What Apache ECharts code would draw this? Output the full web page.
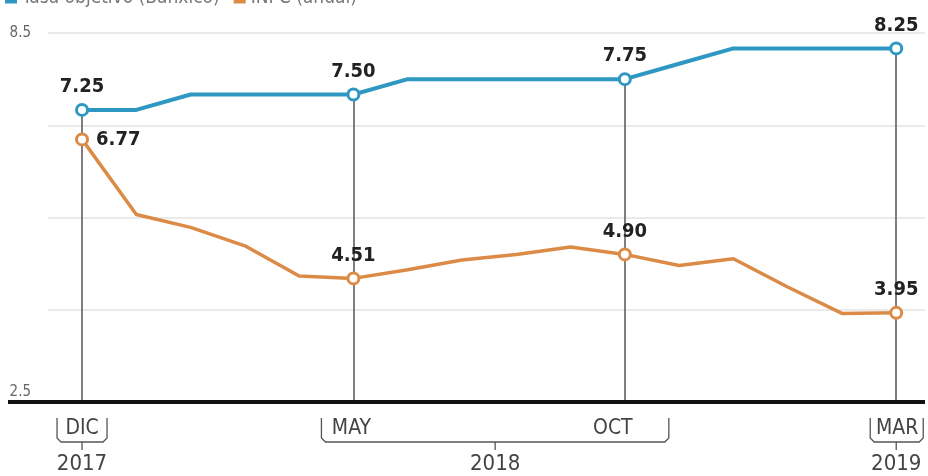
<!DOCTYPE html>
<html>
<head>
<meta charset="utf-8">
<script src="https://cdn.jsdelivr.net/npm/echarts@6/dist/echarts.min.js"></script>
<style>html,body{margin:0;padding:0;background:#fff;}#c{width:928px;height:476px;}</style>
</head>
<body>
<div id="c"></div>
<script>
const months = ['DIC 2017','ENE','FEB','MAR','ABR','MAY','JUN','JUL','AGO','SEP','OCT','NOV','DIC','ENE 2019','FEB','MAR 2019'];
const banxico = [7.25,7.25,7.50,7.50,7.50,7.50,7.75,7.75,7.75,7.75,7.75,8.00,8.25,8.25,8.25,8.25];
const inpc = [6.77,5.55,5.34,5.04,4.55,4.51,4.65,4.81,4.90,5.02,4.90,4.72,4.83,4.37,3.94,3.95];
const labeledIdx = [0,5,10,15];
const tickLabels = ['DIC','MAY','OCT','MAR'];
const yearLabels = ['2017','2018','2019'];
const yTickLabels = [2.5, 8.5];
const seriesNames = ['Tasa objetivo (Banxico)','INPC (anual)'];

(function () {
const BLUE = '#2f98c2', ORANGE = '#dc8b46';
const FONT = "'DejaVu Sans Condensed','Liberation Sans Narrow',sans-serif";
const NARROW = "'Liberation Sans Narrow','DejaVu Sans Condensed',sans-serif";

const chart = echarts.init(document.getElementById('c'));

function mkData(arr, color, labelPos) {
  return arr.map((v, i) => {
    const key = labeledIdx.includes(i);
    const item = { value: [i, v] };
    if (key) {
      const pos = (typeof labelPos === 'function') ? labelPos(i) : labelPos;
      item.symbol = 'circle';
      item.symbolSize = 11;
      item.itemStyle = { color: '#fff', borderColor: color, borderWidth: 3 };
      item.label = {
        show: true, position: pos,
        distance: pos === 'right' ? 7 : 6, formatter: v.toFixed(2), fontFamily: FONT, fontWeight: 'bold',
        fontSize: 20, color: '#222'
      };
    } else {
      item.symbol = 'none';
    }
    return item;
  });
}

chart.setOption({
  animation: false,
  legend: {
    left: 0, top: -16, icon: 'rect', itemWidth: 12, itemHeight: 10, itemGap: 14,
    textStyle: { fontFamily: FONT, fontSize: 19, color: '#777' },
    data: seriesNames
  },
  grid: { left: 48, right: 3, top: 33, bottom: 74 },
  xAxis: {
    type: 'value', min: -0.627, max: 15.53,
    axisLine: { show: false }, axisTick: { show: false }, axisLabel: { show: false },
    splitLine: { show: false }
  },
  yAxis: {
    type: 'value', min: 2.5, max: 8.5, interval: 1.5,
    axisLine: { show: false }, axisTick: { show: false },
    axisLabel: {
      margin: 17, fontFamily: NARROW, fontSize: 15, color: '#666',
      formatter: v => yTickLabels.includes(v) ? (v === 2.5 ? '{low|2.5}' : String(v)) : '',
      rich: { low: { fontFamily: NARROW, fontSize: 15, color: '#666', padding: [0, 0, 20, 0] } }
    },
    splitLine: { lineStyle: { color: '#e3e3e3', width: 1.5 } }
  },
  series: [
    {
      name: seriesNames[1], type: 'line', z: 2,
      data: mkData(inpc, ORANGE, i => i === 0 ? 'right' : 'top'),
      lineStyle: { color: ORANGE, width: 3.5 },
      itemStyle: { color: ORANGE },
      markLine: {
        silent: true, symbol: 'none', label: { show: false }, z: 1,
        lineStyle: { color: '#555', width: 1.5, type: 'solid' },
        data: labeledIdx.map(i => [{ coord: [i, banxico[i]] }, { coord: [i, 2.5] }])
      }
    },
    {
      name: seriesNames[0], type: 'line', z: 3,
      data: mkData(banxico, BLUE, 'top'),
      lineStyle: { color: BLUE, width: 4 },
      itemStyle: { color: BLUE }
    }
  ]
});

const px = i => chart.convertToPixel({ xAxisIndex: 0 }, i);
const baseY = chart.convertToPixel({ yAxisIndex: 0 }, 2.5);
const g = [];
g.push({ type: 'line', shape: { x1: 8, y1: baseY, x2: 925, y2: baseY }, style: { stroke: '#111', lineWidth: 4 }, z: 10 });

const bTop = 418, bBot = 442, tickEnd = 450, r = 4;
function bracket(x1, x2, tx) {
  g.push({ type: 'polyline', shape: { points: [[x1, bTop], [x1, bBot - r], [x1 + r, bBot], [x2 - r, bBot], [x2, bBot - r], [x2, bTop]] },
    style: { stroke: '#555', lineWidth: 1.3, fill: null }, z: 10 });
  g.push({ type: 'line', shape: { x1: tx, y1: bBot, x2: tx, y2: tickEnd }, style: { stroke: '#555', lineWidth: 1.3 }, z: 10 });
}
const xs = labeledIdx.map(px);
const txt = (text, x, y, size) => ({ type: 'text', x: x, y: y, z: 10,
  style: { text: text, fontFamily: NARROW, fontSize: size, fill: '#444', align: 'center', verticalAlign: 'middle' } });

const midX = (xs[1] - 32 + xs[2] + 44) / 2;
bracket(xs[0] - 25, xs[0] + 25, xs[0]);
bracket(xs[1] - 32, xs[2] + 44, midX);
bracket(xs[3] - 26, xs[3] + 27, xs[3]);

g.push(txt(tickLabels[0], xs[0], 429, 21));
g.push(txt(tickLabels[1], xs[1] - 2, 429, 21));
g.push(txt(tickLabels[2], xs[2] - 12, 429, 21));
g.push(txt(tickLabels[3], xs[3] + 1, 429, 21));
g.push(txt(yearLabels[0], xs[0], 464, 22));
g.push(txt(yearLabels[1], midX, 464, 22));
g.push(txt(yearLabels[2], xs[3], 464, 22));

chart.setOption({ graphic: g });
})();
</script>
</body>
</html>
